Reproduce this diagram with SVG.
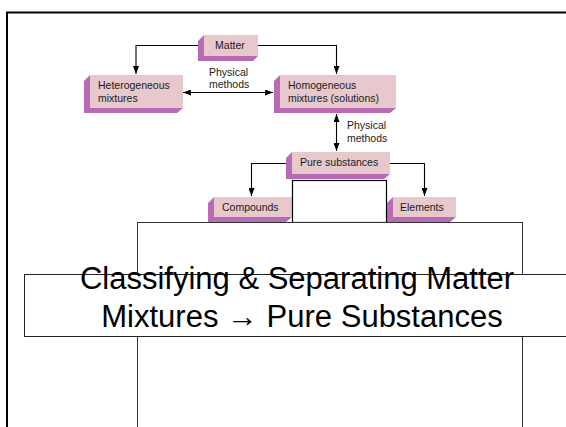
<svg xmlns="http://www.w3.org/2000/svg" width="566" height="427" viewBox="0 0 566 427">
<style>
.side{fill:#b96ab5}
.face{fill:#e7c9cd}
.lbl{font-family:"Liberation Sans",Arial,sans-serif;font-size:10.5px;fill:#1a1a1a}
.con{fill:none;stroke:#000;stroke-width:1.1}
.title{font-family:"Liberation Sans",Arial,sans-serif;font-size:31px;fill:#000;text-anchor:middle}
</style>
<defs>
<marker id="ah" viewBox="0 0 8 6" refX="8" refY="3" markerWidth="8" markerHeight="6" markerUnits="userSpaceOnUse" orient="auto-start-reverse">
<path d="M0,0 L8,3 L0,6 Z" fill="#000"/>
</marker>
</defs>
<rect x="0" y="0" width="566" height="427" fill="#fff"/>
<rect id="frame" x="7" y="12.5" width="620" height="500" fill="none" stroke="#000" stroke-width="2"/>

<g id="matter">
<path class="side" d="M204,35 L198,41 L198,61 L253,61 L258,56 L204,56 Z"/>
<rect class="face" x="204" y="35" width="54" height="21"/>
<text class="lbl" x="230" y="49" text-anchor="middle">Matter</text>
</g>
<g id="heterogeneous">
<path class="side" d="M90,75 L84,81 L84,113 L177,113 L183,108 L90,108 Z"/>
<rect class="face" x="90" y="75" width="93" height="33"/>
<text class="lbl" x="98" y="89">Heterogeneous</text>
<text class="lbl" x="98" y="102">mixtures</text>
</g>
<g id="homogeneous">
<path class="side" d="M280,75 L274,81 L274,113 L390,113 L396,108 L280,108 Z"/>
<rect class="face" x="280" y="75" width="116" height="33"/>
<text class="lbl" x="288" y="89">Homogeneous</text>
<text class="lbl" x="288" y="102">mixtures (solutions)</text>
</g>
<g id="pure">
<path class="side" d="M292,152 L286,158 L286,179 L384,179 L390,174 L292,174 Z"/>
<rect class="face" x="292" y="152" width="98" height="22"/>
<text class="lbl" x="300" y="166">Pure substances</text>
</g>
<g id="compounds">
<path class="side" d="M214,197 L208,203 L208,222 L286,222 L292,217 L214,217 Z"/>
<rect class="face" x="214" y="197" width="78" height="20"/>
<text class="lbl" x="222" y="211">Compounds</text>
</g>
<g id="elements">
<path class="side" d="M393,197 L387,203 L387,222 L450,222 L456,217 L393,217 Z"/>
<rect class="face" x="393" y="197" width="63" height="20"/>
<text class="lbl" x="400" y="211">Elements</text>
</g>

<g id="connectors">
<path class="con" d="M198,45.5 H136 V74" marker-end="url(#ah)"/>
<path class="con" d="M258,45.5 H336.5 V74" marker-end="url(#ah)"/>
<path class="con" d="M183,92.5 H273" marker-start="url(#ah)" marker-end="url(#ah)"/>
<path class="con" d="M336.5,114 V151" marker-start="url(#ah)" marker-end="url(#ah)"/>
<path class="con" d="M286,163.5 H251.5 V196" marker-end="url(#ah)"/>
<path class="con" d="M390,163.5 H424.5 V196" marker-end="url(#ah)"/>
</g>
<g id="edge-labels">
<text class="lbl" x="209" y="76">Physical</text>
<text class="lbl" x="209" y="88">methods</text>
<text class="lbl" x="347" y="129">Physical</text>
<text class="lbl" x="347" y="142">methods</text>
</g>

<rect id="blank-small" x="292.5" y="180.5" width="94" height="42" fill="#fff" stroke="#000" stroke-width="1.2"/>
<rect id="blank-large" x="137.5" y="222.5" width="385" height="300" fill="#fff" stroke="#333" stroke-width="1"/>
<rect id="title-box" x="24.5" y="274.5" width="600" height="62" fill="#fff" stroke="#222" stroke-width="1"/>
<text class="title" x="297" y="289">Classifying &amp; Separating Matter</text>
<text class="title" x="302" y="326.5">Mixtures → Pure Substances</text>
</svg>
